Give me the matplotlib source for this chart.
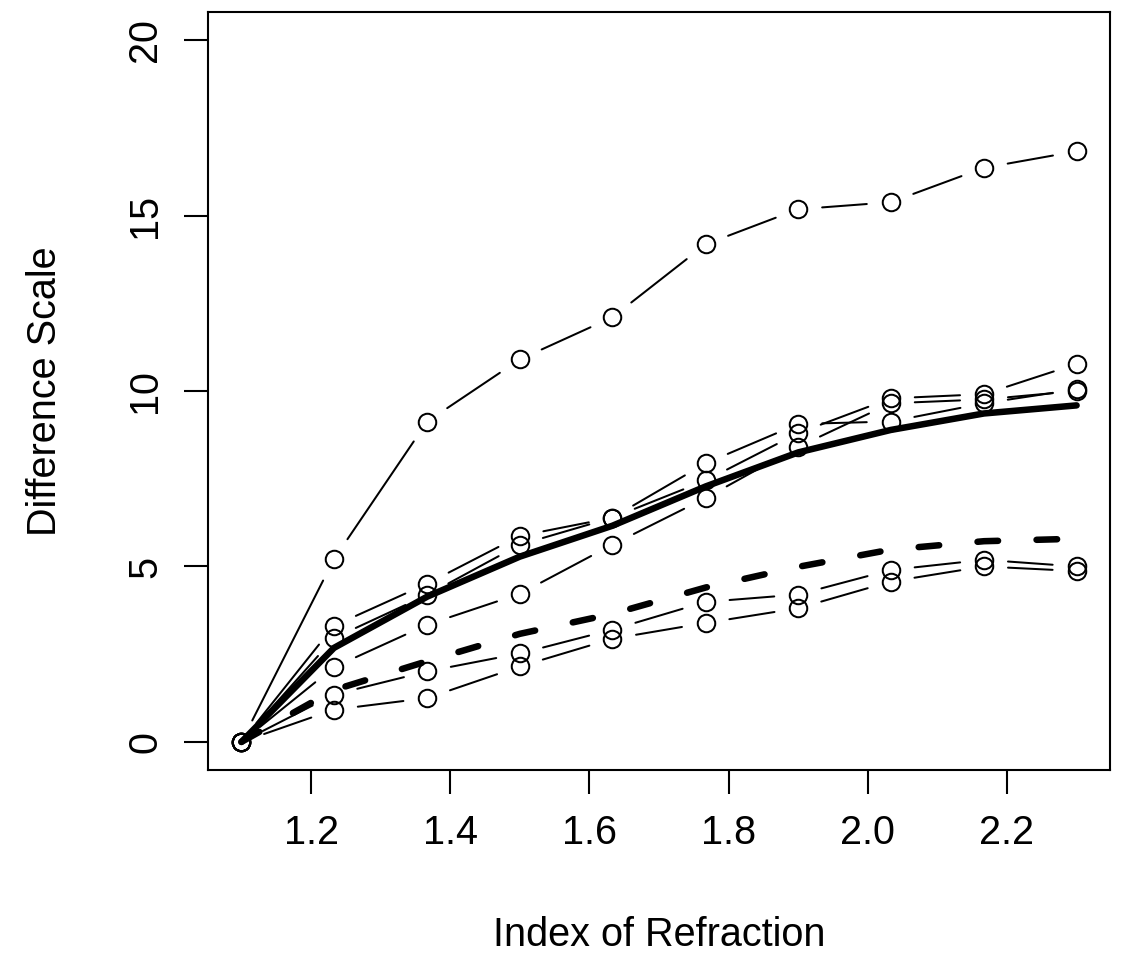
import matplotlib
matplotlib.use("Agg")
import matplotlib.pyplot as plt

# ---- data ----
x = [1.10, 1.233, 1.367, 1.50, 1.633, 1.767, 1.90, 2.033, 2.167, 2.30]

obs1 = [0, 5.21, 9.13, 10.90, 12.10, 14.18, 15.18, 15.38, 16.36, 16.83]
obs2 = [0, 3.31, 4.51, 5.87, 6.39, 7.94, 9.06, 9.13, 9.65, 10.05]
obs3 = [0, 2.96, 4.19, 5.62, 6.39, 7.45, 8.80, 9.79, 9.91, 10.77]
obs4 = [0, 2.13, 3.34, 4.22, 5.62, 6.95, 8.41, 9.65, 9.76, 10.00]
obs5 = [0, 1.35, 2.01, 2.52, 3.20, 3.99, 4.20, 4.90, 5.19, 5.00]
obs6 = [0, 0.92, 1.25, 2.15, 2.94, 3.39, 3.81, 4.57, 5.00, 4.87]
observers = [obs1, obs2, obs3, obs4, obs5, obs6]

mean_solid = [0, 2.68, 4.14, 5.28, 6.16, 7.28, 8.25, 8.89, 9.36, 9.59]
mean_dashed = [0, 1.48, 2.30, 3.08, 3.65, 4.40, 4.99, 5.48, 5.72, 5.79]

xticks = [1.2, 1.4, 1.6, 1.8, 2.0, 2.2]
xticklabels = ["1.2", "1.4", "1.6", "1.8", "2.0", "2.2"]
yticks = [0, 5, 10, 15, 20]
yticklabels = ["0", "5", "10", "15", "20"]

# ---- figure ----
plt.rcParams['font.family'] = ['Liberation Sans', 'DejaVu Sans']
W, H = 1124, 956
fig = plt.figure(figsize=(W / 100, H / 100), dpi=100)
L, R, T, B = 208, 1110, 12, 770
ax = fig.add_axes([L / W, (H - B) / H, (R - L) / W, (B - T) / H])
ax.set_xlim(1.052, 2.348)
ax.set_ylim(-0.8, 20.8)

thin = 1.45
gap_pt = 17.3
for s in observers:
    ax.plot(x, s, linestyle='none', marker='o', markersize=12.6,
            markerfacecolor='none', markeredgecolor='black',
            markeredgewidth=thin, zorder=3)
    for i in range(len(x) - 1):
        ax.annotate('', xy=(x[i + 1], s[i + 1]), xytext=(x[i], s[i]),
                    arrowprops=dict(arrowstyle='-', shrinkA=gap_pt,
                                    shrinkB=gap_pt, lw=thin,
                                    color='black', capstyle='round'),
                    zorder=2)

ax.plot(x, mean_solid, color='black', lw=4.7, solid_capstyle='round',
        solid_joinstyle='round', zorder=4)
ax.plot(x, mean_dashed, color='black', lw=4.7, linestyle=(0, (3.15, 5.9)),
        dash_capstyle='round', dash_joinstyle='round', zorder=4)

for sp in ax.spines.values():
    sp.set_linewidth(1.5)

ax.set_xticks(xticks)
ax.set_xticklabels(xticklabels)
ax.set_yticks(yticks)
ax.set_yticklabels(yticklabels, rotation=90, va='center')
ax.tick_params(axis='both', direction='out', length=17.5, width=1.5,
               labelsize=28.5, pad=14)

ax.set_xlabel("Index of Refraction", fontsize=28.5)
ax.set_ylabel("Difference Scale", fontsize=28.5)
ax.xaxis.set_label_coords(0.5, (B - 935) / (B - T))
ax.xaxis.label.set_va('center')
ax.yaxis.set_label_coords((45 - L) / (R - L), 0.5)
ax.yaxis.label.set_va('center')

fig.savefig("out.png", dpi=100)
